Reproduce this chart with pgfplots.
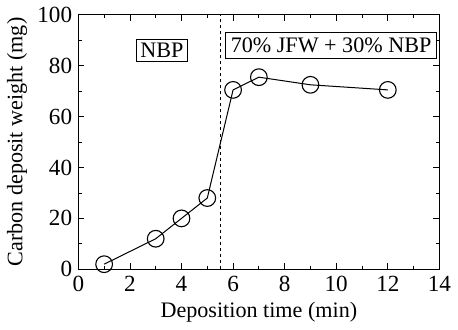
\documentclass[border=0pt]{standalone}
\usepackage{fontspec}
\setmainfont{Liberation Serif}
\usepackage{pgfplots}
\pgfplotsset{compat=1.18}
\begin{document}
\fontsize{21}{24}\selectfont
\begin{tikzpicture}
\begin{axis}[
  scale only axis,
  width=359pt, height=253pt,
  xmin=0, xmax=14, ymin=0, ymax=100,
  xtick={0,2,...,14}, ytick={0,20,...,100},
  minor x tick num=1, minor y tick num=1,
  tick align=inside,
  major tick length=6pt, minor tick length=3.5pt,
  every tick/.style={black, line width=0.8pt},
  axis line style={line width=0.9pt},
  /pgf/number format/assume math mode=true,
  ticklabel style={font=\fontsize{23}{26}\selectfont},
  yticklabel style={xshift=1pt},
  label style={font=\fontsize{22}{25}\selectfont},
  xlabel={Deposition time (min)},
  ylabel={Carbon deposit weight (mg)},
  xlabel style={yshift=4pt},
  ylabel style={yshift=-4pt},
  clip=false,
]
\addplot[black, line width=1pt, mark=o, mark size=8.3pt, mark options={fill=white, line width=1.1pt}]
coordinates {(1,2) (3,12) (4,20) (5,28) (6,70.5) (7,75.5) (9,72.5) (12,70.5)};
\draw[dashed, line width=0.7pt] (axis cs:5.5,0) -- (axis cs:5.5,100);
\node[draw, line width=0.7pt, fill=white, inner sep=4pt, font=\fontsize{22}{25}\selectfont] at (axis cs:3.24,86) {NBP};
\node[draw, line width=0.7pt, fill=white, inner xsep=5pt, inner ysep=5pt, font=\fontsize{22}{25}\selectfont] at (axis cs:9.8,88) {70\% JFW + 30\% NBP};
\end{axis}
\end{tikzpicture}
\end{document}
